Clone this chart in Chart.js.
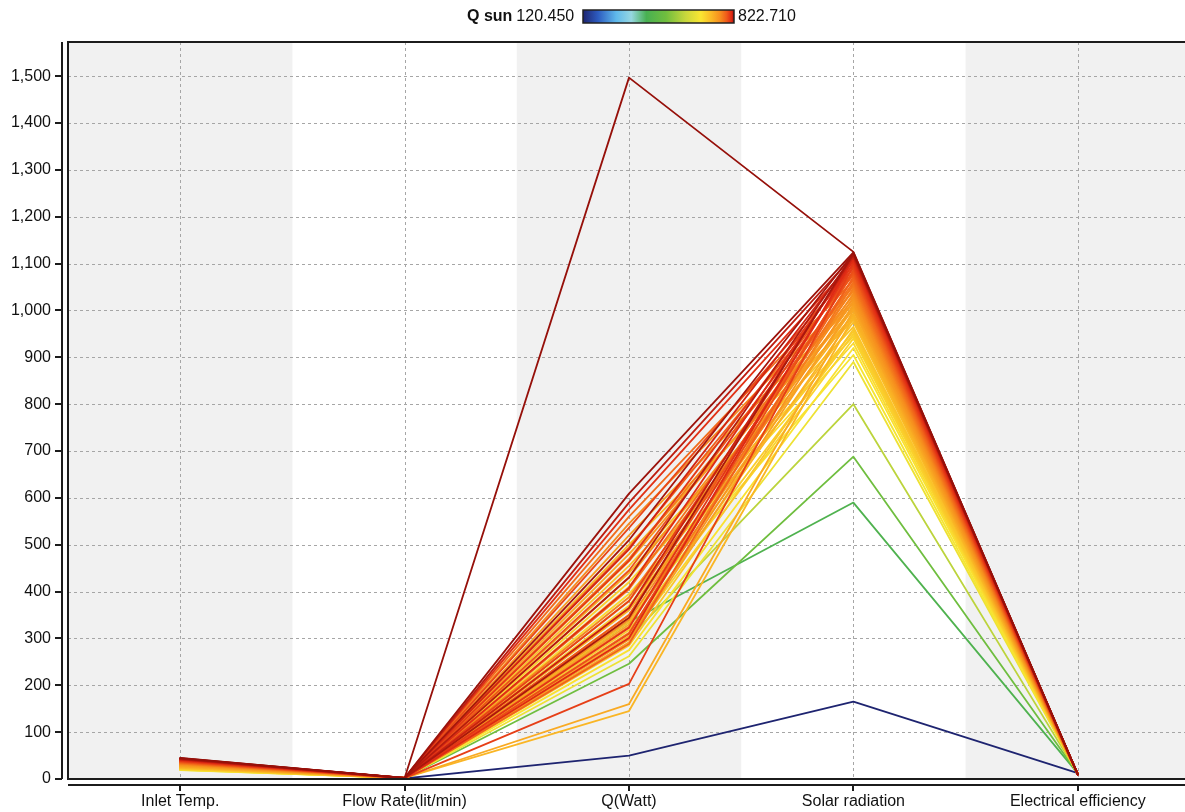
<!DOCTYPE html>
<html>
<head>
<meta charset="utf-8">
<title>Parallel coordinates – Q sun</title>
<script src="https://cdn.jsdelivr.net/npm/chart.js@4/dist/chart.umd.min.js"></script>
<style>
  html, body { margin: 0; padding: 0; background: #fff; overflow: hidden; }
  #wrap { width: 1192px; height: 812px; }
</style>
</head>
<body>
<div id="wrap"><canvas id="chart" width="1192" height="812"></canvas></div>
<script>
// Axes of the parallel-coordinates plot
const categories = ['Inlet Temp.', 'Flow Rate(lit/min)', 'Q(Watt)', 'Solar radiation', 'Electrical efficiency'];

// Value-axis tick labels
const yTicks = [0, 100, 200, 300, 400, 500, 600, 700, 800, 900, 1000, 1100, 1200, 1300, 1400, 1500];

// Colour-scale range of Q sun
const qSunRange = [120.450, 822.710];

// One entry per record, in record order
const inletTemp = [31.0, 30.0, 29.5, 28.5,
  19.0, 19.5, 20.0, 20.5, 21.0, 21.5, 22.0, 22.5, 23.0, 23.5, 24.0, 24.5,
  25.0, 25.4, 25.9, 26.3, 26.8, 27.2, 27.7, 28.1, 28.6, 29.0,
  29.5, 29.9, 30.4, 30.8, 31.3, 31.7, 32.2, 32.6, 33.1, 33.5,
  34.0, 34.4, 34.9, 35.3, 35.8, 36.2, 36.7, 37.1, 37.6, 38.0,
  38.5, 38.9, 39.4, 39.8, 40.3, 40.7, 41.2, 41.6, 42.1, 42.5,
  43.0, 43.4, 43.9, 44.4, 45.0];

const flowRate = [1.2, 1.8, 2.1, 1.6, 2.2, 1.9, 2.4, 1.7, 2.0, 2.3,
  1.8, 2.1, 2.5, 1.9, 2.2, 1.6, 2.4, 2.0, 1.8, 2.3,
  2.1, 1.7, 2.5, 1.9, 2.2, 2.0, 1.8, 2.4, 2.1, 1.7,
  2.3, 2.0, 1.9, 2.2, 1.8, 2.5, 2.1, 1.7, 2.3, 2.0,
  1.9, 2.2, 1.8, 2.4, 2.1, 1.7, 2.3, 2.0, 1.9, 2.2,
  1.8, 2.5, 2.1, 1.7, 2.3, 2.0, 1.9, 2.2, 1.8, 2.4, 2.0];

const qWatt = [50, 335, 246, 300, 262, 345, 275, 395, 300, 420,
  318, 370, 285, 455, 335, 500, 145, 305, 440, 360,
  160, 480, 330, 410, 292, 520, 380, 350, 465, 298,
  430, 340, 545, 388, 312, 470, 325, 405, 560, 365,
  288, 494, 350, 445, 310, 536, 380, 203, 466, 323,
  575, 408, 301, 490, 365, 590, 430, 344, 510, 609, 1497];

const solarRad = [165, 590, 688, 800, 890, 905, 920, 930, 940, 945,
  950, 955, 960, 965, 975, 980, 985, 988, 990, 993,
  1000, 1002, 1005, 1008, 1012, 1015, 1018, 1020, 1024, 1028,
  1032, 1036, 1040, 1044, 1048, 1052, 1056, 1060, 1064, 1068,
  1072, 1076, 1080, 1083, 1086, 1090, 1093, 1096, 1099, 1102,
  1105, 1108, 1110, 1113, 1115, 1117, 1119, 1121, 1122, 1124, 1125];

const elecEff = [12.4, 11.9, 11.7, 11.5, 11.3, 11.2, 11.0, 11.1, 10.9, 10.8,
  11.0, 10.7, 10.8, 10.6, 10.9, 10.5, 10.7, 10.6, 10.4, 10.8,
  10.5, 10.6, 10.3, 10.7, 10.4, 10.6, 10.2, 10.5, 10.3, 10.6,
  10.2, 10.4, 10.1, 10.5, 10.3, 10.0, 10.4, 10.2, 10.1, 10.3,
  10.0, 10.2, 10.1, 9.9, 10.2, 10.0, 10.1, 9.9, 10.2, 10.0,
  9.8, 10.1, 9.9, 10.0, 9.8, 9.9, 9.7, 9.9, 9.8, 9.7, 9.6];

const qSun = [120.45, 431.2, 503.6, 585.3, 650.9, 661.8, 672.8, 680.1, 687.4, 691.1,
  694.7, 698.4, 702.0, 705.7, 713.0, 716.7, 720.3, 722.5, 724.0, 726.2,
  731.3, 732.8, 734.9, 737.2, 740.1, 742.3, 744.5, 745.9, 748.9, 751.8,
  754.7, 757.6, 760.6, 763.5, 766.4, 769.3, 772.3, 775.2, 778.1, 781.0,
  784.0, 786.9, 789.8, 792.0, 794.2, 797.1, 799.3, 801.5, 803.7, 805.9,
  808.1, 810.3, 811.7, 813.9, 815.4, 816.9, 818.3, 819.8, 820.5, 822.0, 822.71];

// Colour map: navy -> cyan -> green -> yellow -> orange -> red
const cmap = [
  [0.00, [30, 36, 112]],
  [0.10, [45, 92, 192]],
  [0.22, [95, 185, 235]],
  [0.32, [150, 215, 225]],
  [0.42, [72, 176, 82]],
  [0.55, [112, 190, 62]],
  [0.68, [200, 215, 60]],
  [0.78, [250, 230, 50]],
  [0.85, [250, 185, 38]],
  [0.91, [246, 140, 30]],
  [0.95, [240, 92, 26]],
  [0.985, [222, 40, 20]],
  [1.00, [150, 16, 10]]
];
function colorAt(t) {
  t = Math.max(0, Math.min(1, t));
  for (let i = 1; i < cmap.length; i++) {
    if (t <= cmap[i][0]) {
      const [t0, c0] = cmap[i - 1], [t1, c1] = cmap[i];
      const f = (t - t0) / (t1 - t0);
      const c = c0.map((v, k) => Math.round(v + (c1[k] - v) * f));
      return `rgb(${c[0]},${c[1]},${c[2]})`;
    }
  }
  const c = cmap[cmap.length - 1][1];
  return `rgb(${c[0]},${c[1]},${c[2]})`;
}

// Higher Q sun records are painted last (on top)
const datasets = qSun.map((q, i) => ({
  data: [inletTemp[i], flowRate[i], qWatt[i], solarRad[i], elecEff[i]],
  borderColor: colorAt((q - qSunRange[0]) / (qSunRange[1] - qSunRange[0])),
  borderWidth: 1.8,
  pointRadius: 0,
  tension: 0,
  fill: false,
  order: qSun.length - i
}));

const FONT = '"Liberation Sans", Arial, Helvetica, sans-serif';

// Alternating bands, dashed grid, offset axis lines and the colour legend
const decor = {
  id: 'decor',
  beforeDatasetsDraw(chart) {
    const { ctx, chartArea: a, scales: { x, y } } = chart;
    ctx.save();
    const half = (x.getPixelForValue(1) - x.getPixelForValue(0)) / 2;
    ctx.fillStyle = '#f1f1f1';
    categories.forEach((c, i) => {
      if (i % 2 === 0) {
        const cx = x.getPixelForValue(i);
        ctx.fillRect(cx - half, a.top, 2 * half, a.bottom - a.top);
      }
    });
    ctx.strokeStyle = '#a6a6a6';
    ctx.lineWidth = 1;
    ctx.setLineDash([3, 3]);
    ctx.beginPath();
    yTicks.forEach(v => {
      if (v === 0) return;
      const py = Math.round(y.getPixelForValue(v)) + 0.5;
      ctx.moveTo(a.left, py); ctx.lineTo(a.right, py);
    });
    categories.forEach((c, i) => {
      const px = Math.round(x.getPixelForValue(i)) + 0.5;
      ctx.moveTo(px, a.top); ctx.lineTo(px, a.bottom);
    });
    ctx.stroke();
    ctx.restore();
  },
  afterDatasetsDraw(chart) {
    const { ctx, chartArea: a, scales: { x, y } } = chart;
    ctx.save();
    ctx.setLineDash([]);
    ctx.strokeStyle = '#1c1c1c';
    ctx.lineWidth = 2;
    // plot frame
    ctx.beginPath();
    ctx.moveTo(a.right, a.top); ctx.lineTo(a.left, a.top);
    ctx.lineTo(a.left, a.bottom); ctx.lineTo(a.right, a.bottom);
    ctx.stroke();
    // offset value axis with ticks
    ctx.beginPath();
    ctx.moveTo(a.left - 6, a.top); ctx.lineTo(a.left - 6, a.bottom);
    yTicks.forEach(v => {
      const py = Math.round(y.getPixelForValue(v));
      ctx.moveTo(a.left - 13, py); ctx.lineTo(a.left - 6, py);
    });
    ctx.stroke();
    // offset category axis with ticks
    ctx.beginPath();
    ctx.moveTo(a.left, a.bottom + 6); ctx.lineTo(a.right, a.bottom + 6);
    categories.forEach((c, i) => {
      const px = Math.round(x.getPixelForValue(i));
      ctx.moveTo(px, a.bottom + 6); ctx.lineTo(px, a.bottom + 12);
    });
    ctx.stroke();

    // colour legend
    const ly = 17;
    ctx.fillStyle = '#111';
    ctx.textBaseline = 'middle';
    ctx.textAlign = 'left';
    ctx.font = 'bold 16px ' + FONT;
    const title = 'Q sun';
    ctx.fillText(title, 467, ly);
    const tw = ctx.measureText(title).width;
    ctx.font = '16px ' + FONT;
    const lo = qSunRange[0].toFixed(3);
    ctx.fillText(lo, 467 + tw + 4, ly);
    const bx = 583, bw = 151, by = 10, bh = 13;
    const g = ctx.createLinearGradient(bx, 0, bx + bw, 0);
    cmap.forEach(([t, c]) => g.addColorStop(t, `rgb(${c[0]},${c[1]},${c[2]})`));
    ctx.fillStyle = g;
    ctx.fillRect(bx, by, bw, bh);
    ctx.strokeStyle = '#222';
    ctx.lineWidth = 1.5;
    ctx.strokeRect(bx, by, bw, bh);
    ctx.fillStyle = '#111';
    ctx.fillText(qSunRange[1].toFixed(3), bx + bw + 4, ly);
    ctx.restore();
  }
};

new Chart(document.getElementById('chart'), {
  type: 'line',
  data: { labels: categories, datasets },
  options: {
    responsive: false,
    animation: false,
    devicePixelRatio: 1,
    layout: { padding: { top: 42, right: 2, left: 0, bottom: 0 } },
    plugins: { legend: { display: false }, tooltip: { enabled: false } },
    elements: { line: { borderCapStyle: 'round', borderJoinStyle: 'round' } },
    scales: {
      x: {
        type: 'category',
        offset: true,
        grid: { display: false, drawTicks: false },
        border: { display: false },
        ticks: { color: '#111', font: { family: FONT, size: 16 }, padding: 13, maxRotation: 0, autoSkip: false },
        afterFit(scale) { scale.height = 33; }
      },
      y: {
        type: 'linear',
        min: 0,
        max: 1573,
        grid: { display: false, drawTicks: false },
        border: { display: false },
        ticks: {
          stepSize: 100,
          color: '#111',
          padding: 17,
          font: { family: FONT, size: 16 },
          callback: v => v.toLocaleString('en-US')
        },
        afterBuildTicks(scale) {
          scale.ticks = yTicks.map(v => ({ value: v }));
        },
        afterFit(scale) { scale.width = 68; }
      }
    }
  },
  plugins: [decor]
});
</script>
</body>
</html>
